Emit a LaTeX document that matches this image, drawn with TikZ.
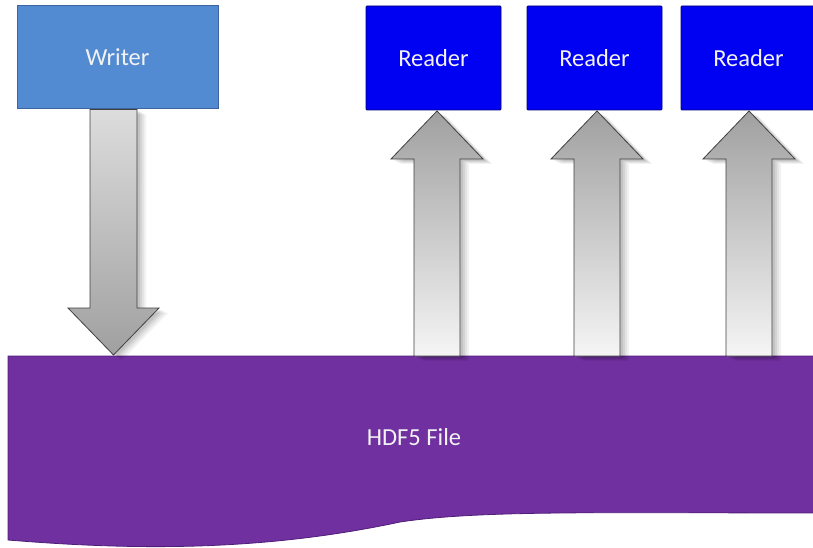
\documentclass[tikz,border=0pt]{standalone}
\usepackage{fontspec}
\setmainfont{Carlito}
\usetikzlibrary{shadows,calc}
\definecolor{writerblue}{RGB}{83,139,211}
\definecolor{writeredge}{RGB}{60,100,160}
\definecolor{readerblue}{RGB}{0,0,242}
\definecolor{readeredge}{RGB}{0,0,120}
\definecolor{hdfpurple}{RGB}{112,48,160}
\definecolor{hdfedge}{RGB}{80,30,120}
\definecolor{arrowdark}{RGB}{160,160,160}
\definecolor{arrowlight}{RGB}{245,245,245}
\tikzset{
  boxtext/.style={text=white!95!black, font=\fontsize{24.5}{28}\selectfont},
  writerbox/.style={boxtext, draw=writeredge, line width=1pt, fill=writerblue, minimum width=201pt, minimum height=103pt, inner sep=0pt},
  readerbox/.style={boxtext, draw=readeredge, line width=0.8pt, fill=readerblue, minimum width=135pt, minimum height=104pt, inner sep=0pt, rounded corners=1pt},
  softshadow/.style={
    drop shadow={shadow xshift=9pt, shadow yshift=-5pt, opacity=0.05, fill=black},
    drop shadow={shadow xshift=7pt, shadow yshift=-4pt, opacity=0.06, fill=black},
    drop shadow={shadow xshift=5pt, shadow yshift=-3pt, opacity=0.07, fill=black},
    drop shadow={shadow xshift=3pt, shadow yshift=-2pt, opacity=0.08, fill=black}},
  blockarrow/.style={draw=black!75, line width=0.8pt, line join=miter, softshadow},
  uparrow/.style={blockarrow, top color=arrowdark, bottom color=arrowlight},
  downarrow/.style={blockarrow, top color=arrowlight!90!black, bottom color=arrowdark},
}
\begin{document}
\begin{tikzpicture}[x=1pt,y=-1pt]
\useasboundingbox (0,0) rectangle (813,548);
% HDF5 file
\path[fill=hdfpurple, draw=hdfedge, line width=0.8pt]
  (8,540) -- (8,356) -- (830,356) -- (830,513)
  .. controls (600,513) and (480,510) .. (400,522)
  .. controls (260,552) and (130,550) .. (8,540) -- cycle;
\node[boxtext] (file) at (414,437) {HDF5 File};
% boxes
\node[writerbox] (writer) at (117.5,57.5) {Writer};
\node[readerbox] (r1) at (433.5,58) {Reader};
\node[readerbox] (r2) at (594.5,58) {Reader};
\node[readerbox] (r3) at (748.5,58) {Reader};
% writer arrow (down)
\coordinate (wt) at (113.5,109.5);
\coordinate (wh) at (113.5,355);
\path[downarrow]
  ($(wt)+(-23.5,0)$) -- ($(wt)+(23.5,0)$) -- ($(wh)+(23.5,-47)$) -- ($(wh)+(45.5,-47)$)
  -- (wh) -- ($(wh)+(-45.5,-47)$) -- ($(wh)+(-23.5,-47)$) -- cycle;
% reader arrows (up)
\foreach \n/\cx in {1/437,2/597,3/749}{
  \coordinate (h\n) at (\cx,111);
  \coordinate (b\n) at (\cx,356);
  \path[uparrow]
    ($(b\n)+(-23,0)$) -- ($(b\n)+(23,0)$) -- ($(h\n)+(23,48)$) -- ($(h\n)+(46,48)$)
    -- (h\n) -- ($(h\n)+(-46,48)$) -- ($(h\n)+(-23,48)$) -- cycle;
}
\end{tikzpicture}
\end{document}
